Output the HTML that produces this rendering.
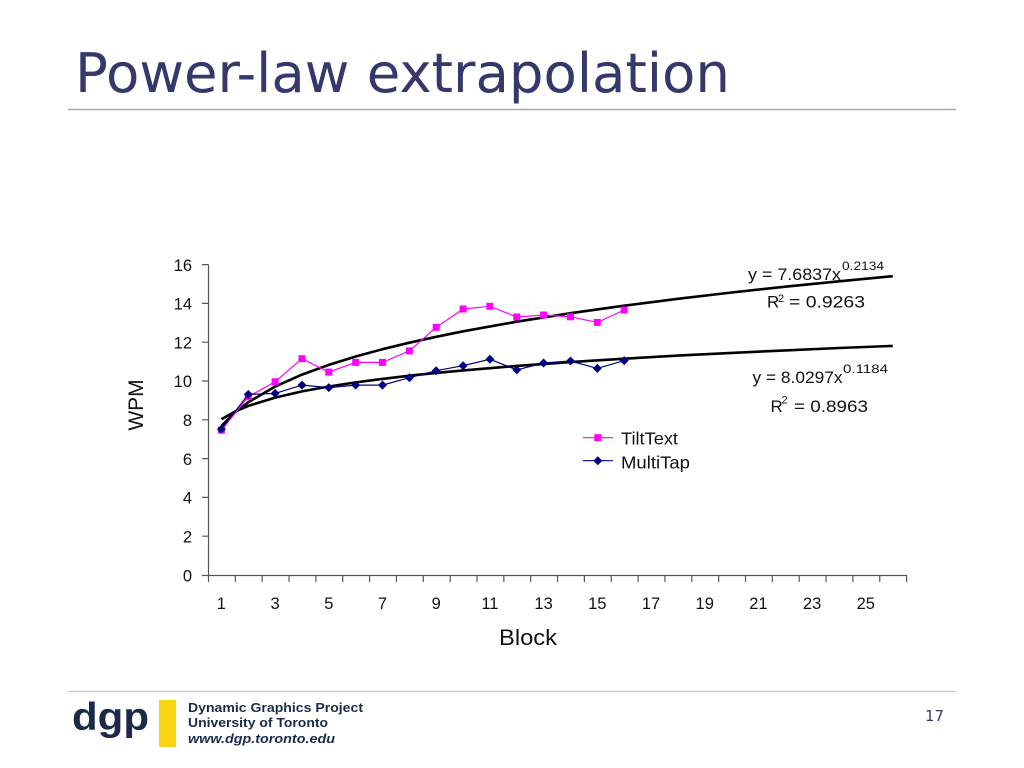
<!DOCTYPE html>
<html>
<head>
<meta charset="utf-8">
<style>
  html, body { margin: 0; padding: 0; background: #ffffff; }
  svg { display: block; }
  text { font-family: "Liberation Sans", Arial, sans-serif; }
</style>
</head>
<body>
<svg width="1024" height="768" viewBox="0 0 1024 768" xmlns="http://www.w3.org/2000/svg">
  <rect x="0" y="0" width="1024" height="768" fill="#ffffff"/>

  <!-- Title -->
  <text x="75" y="92" font-family="DejaVu Sans, sans-serif" font-size="54" fill="#35386b" textLength="655" lengthAdjust="spacingAndGlyphs" style="font-family:'DejaVu Sans',sans-serif">Power-law extrapolation</text>
  <line x1="68" y1="109.5" x2="956" y2="109.5" stroke="#a6a6ba" stroke-width="1.5"/>

  <!-- Trend lines -->
  <polyline fill="none" stroke="#000" stroke-width="2.6" stroke-linejoin="round"
    points="221.4,425.9 234.9,412.5 248.3,402.2 275.1,386.6 302.0,374.6 328.8,364.9 355.7,356.5 382.5,349.2 409.4,342.7 436.2,336.8 463.1,331.3 516.8,321.7 570.5,313.2 624.2,305.7 677.9,298.8 731.6,292.5 785.3,286.7 839.0,281.3 892.7,276.2"/>
  <polyline fill="none" stroke="#000" stroke-width="2.6" stroke-linejoin="round"
    points="221.4,419.2 234.9,411.6 248.3,405.9 275.1,397.6 302.0,391.4 328.8,386.5 355.7,382.4 382.5,378.9 409.4,375.7 436.2,372.9 463.1,370.4 516.8,365.9 570.5,362.1 624.2,358.7 677.9,355.6 731.6,352.9 785.3,350.4 839.0,348.0 892.7,345.9"/>

  <!-- TiltText series -->
  <polyline fill="none" stroke="#ff00ff" stroke-width="1.2"
    points="221.4,430.1 248.3,396.7 275.1,381.8 302.0,358.7 328.8,372.1 355.7,362.4 382.5,362.4 409.4,350.9 436.2,327.3 463.1,309.0 489.9,306.3 516.8,317.0 543.6,315.0 570.5,316.8 597.3,322.4 624.2,310.0"/>
  <g fill="#ff00ff">
    <rect x="217.9" y="426.6" width="7" height="7"/>
    <rect x="244.8" y="393.2" width="7" height="7"/>
    <rect x="271.6" y="378.3" width="7" height="7"/>
    <rect x="298.5" y="355.2" width="7" height="7"/>
    <rect x="325.3" y="368.6" width="7" height="7"/>
    <rect x="352.2" y="358.9" width="7" height="7"/>
    <rect x="379.0" y="358.9" width="7" height="7"/>
    <rect x="405.9" y="347.4" width="7" height="7"/>
    <rect x="432.7" y="323.8" width="7" height="7"/>
    <rect x="459.6" y="305.5" width="7" height="7"/>
    <rect x="486.4" y="302.8" width="7" height="7"/>
    <rect x="513.3" y="313.5" width="7" height="7"/>
    <rect x="540.1" y="311.5" width="7" height="7"/>
    <rect x="567.0" y="313.3" width="7" height="7"/>
    <rect x="593.8" y="318.9" width="7" height="7"/>
    <rect x="620.7" y="306.5" width="7" height="7"/>
  </g>

  <!-- MultiTap series -->
  <polyline fill="none" stroke="#000080" stroke-width="1.2"
    points="221.4,429.3 248.3,394.4 275.1,393.4 302.0,385.1 328.8,387.6 355.7,385.1 382.5,385.1 409.4,377.7 436.2,370.7 463.1,365.7 489.9,359.3 516.8,369.9 543.6,363.0 570.5,361.0 597.3,368.4 624.2,360.6"/>
  <g fill="#000080">
    <polygon points="221.4,424.8 225.9,429.3 221.4,433.8 216.9,429.3"/>
    <polygon points="248.3,389.9 252.8,394.4 248.3,398.9 243.8,394.4"/>
    <polygon points="275.1,388.9 279.6,393.4 275.1,397.9 270.6,393.4"/>
    <polygon points="302.0,380.6 306.5,385.1 302.0,389.6 297.5,385.1"/>
    <polygon points="328.8,383.1 333.3,387.6 328.8,392.1 324.3,387.6"/>
    <polygon points="355.7,380.6 360.2,385.1 355.7,389.6 351.2,385.1"/>
    <polygon points="382.5,380.6 387.0,385.1 382.5,389.6 378.0,385.1"/>
    <polygon points="409.4,373.2 413.9,377.7 409.4,382.2 404.9,377.7"/>
    <polygon points="436.2,366.2 440.7,370.7 436.2,375.2 431.7,370.7"/>
    <polygon points="463.1,361.2 467.6,365.7 463.1,370.2 458.6,365.7"/>
    <polygon points="489.9,354.8 494.4,359.3 489.9,363.8 485.4,359.3"/>
    <polygon points="516.8,365.4 521.3,369.9 516.8,374.4 512.3,369.9"/>
    <polygon points="543.6,358.5 548.1,363.0 543.6,367.5 539.1,363.0"/>
    <polygon points="570.5,356.5 575.0,361.0 570.5,365.5 566.0,361.0"/>
    <polygon points="597.3,363.9 601.8,368.4 597.3,372.9 592.8,368.4"/>
    <polygon points="624.2,356.1 628.7,360.6 624.2,365.1 619.7,360.6"/>
  </g>

  <!-- Axes -->
  <g stroke="#555" stroke-width="1.2" fill="none">
    <line x1="208.5" y1="264.6" x2="208.5" y2="575.5"/>
    <line x1="208" y1="575.5" x2="907" y2="575.5"/>
    <path d="M202 264.6 h6.5 M202 303.4 h6.5 M202 342.2 h6.5 M202 381 h6.5 M202 419.8 h6.5 M202 458.6 h6.5 M202 497.4 h6.5 M202 536.2 h6.5 M202 575.5 h6.5"/>
    <path d="M208.5 575 v7 m26.85 -7 v7 m26.85 -7 v7 m26.85 -7 v7 m26.85 -7 v7 m26.85 -7 v7 m26.85 -7 v7 m26.85 -7 v7 m26.85 -7 v7 m26.85 -7 v7 m26.85 -7 v7 m26.85 -7 v7 m26.85 -7 v7 m26.85 -7 v7 m26.85 -7 v7 m26.85 -7 v7 m26.85 -7 v7 m26.85 -7 v7 m26.85 -7 v7 m26.85 -7 v7 m26.85 -7 v7 m26.85 -7 v7 m26.85 -7 v7 m26.85 -7 v7 m26.85 -7 v7 m26.85 -7 v7 m26.85 -7 v7"/>
  </g>

  <!-- Y tick labels -->
  <g font-size="16.5" fill="#111" text-anchor="end">
    <text x="192" y="270.8">16</text>
    <text x="192" y="309.6">14</text>
    <text x="192" y="348.4">12</text>
    <text x="192" y="387.2">10</text>
    <text x="192" y="426">8</text>
    <text x="192" y="464.8">6</text>
    <text x="192" y="503.6">4</text>
    <text x="192" y="542.4">2</text>
    <text x="192" y="581.6">0</text>
  </g>

  <!-- X tick labels -->
  <g font-size="16.5" fill="#111" text-anchor="middle">
    <text x="221.4" y="609">1</text>
    <text x="275.1" y="609">3</text>
    <text x="328.8" y="609">5</text>
    <text x="382.5" y="609">7</text>
    <text x="436.2" y="609">9</text>
    <text x="489.9" y="609">11</text>
    <text x="543.6" y="609">13</text>
    <text x="597.3" y="609">15</text>
    <text x="651.0" y="609">17</text>
    <text x="704.7" y="609">19</text>
    <text x="758.4" y="609">21</text>
    <text x="812.1" y="609">23</text>
    <text x="865.8" y="609">25</text>
  </g>

  <!-- Axis titles -->
  <text x="499" y="645" font-size="22" fill="#111" textLength="58" lengthAdjust="spacingAndGlyphs">Block</text>
  <text transform="translate(143,405) rotate(-90)" x="0" y="0" font-size="21" fill="#111" text-anchor="middle">WPM</text>

  <!-- Equations -->
  <g fill="#111">
    <text x="748" y="280" font-size="17" textLength="93" lengthAdjust="spacingAndGlyphs">y = 7.6837x</text>
    <text x="842" y="270" font-size="12" textLength="42" lengthAdjust="spacingAndGlyphs">0.2134</text>
    <text x="767" y="307.5" font-size="17">R</text>
    <text x="778" y="302" font-size="11">2</text>
    <text x="789" y="307.5" font-size="17" textLength="76" lengthAdjust="spacingAndGlyphs">= 0.9263</text>

    <text x="752.5" y="383" font-size="17" textLength="90" lengthAdjust="spacingAndGlyphs">y = 8.0297x</text>
    <text x="843" y="373" font-size="12" textLength="45" lengthAdjust="spacingAndGlyphs">0.1184</text>
    <text x="770.5" y="412" font-size="17">R</text>
    <text x="781.5" y="403.5" font-size="11">2</text>
    <text x="794" y="412" font-size="17" textLength="74" lengthAdjust="spacingAndGlyphs">= 0.8963</text>
  </g>

  <!-- Legend -->
  <line x1="582.7" y1="437.7" x2="613" y2="437.7" stroke="#ff00ff" stroke-width="1.2"/>
  <rect x="594.3" y="434.2" width="7" height="7" fill="#ff00ff"/>
  <text x="621" y="444.3" font-size="17.5" fill="#111" textLength="57" lengthAdjust="spacingAndGlyphs">TiltText</text>
  <line x1="582.7" y1="460.7" x2="613" y2="460.7" stroke="#000080" stroke-width="1.2"/>
  <polygon points="597.8,456.2 602.3,460.7 597.8,465.2 593.3,460.7" fill="#000080"/>
  <text x="621" y="468.3" font-size="17.5" fill="#111" textLength="69" lengthAdjust="spacingAndGlyphs">MultiTap</text>

  <!-- Footer -->
  <line x1="68" y1="691.5" x2="956" y2="691.5" stroke="#c4c4c4" stroke-width="1.2"/>
  <text x="72" y="730" font-size="39" font-weight="bold" fill="#1c2a4a" textLength="77" lengthAdjust="spacingAndGlyphs">dgp</text>
  <rect x="159" y="700" width="17" height="47" fill="#f8d412"/>
  <g fill="#1c2a4a" font-weight="bold" font-size="13">
    <text x="188" y="712" textLength="175" lengthAdjust="spacingAndGlyphs">Dynamic Graphics Project</text>
    <text x="188" y="727" textLength="140" lengthAdjust="spacingAndGlyphs">University of Toronto</text>
    <text x="188" y="743" font-style="italic" textLength="147" lengthAdjust="spacingAndGlyphs">www.dgp.toronto.edu</text>
  </g>
  <text x="925" y="721" font-size="15.5" fill="#35386b" style="font-family:'DejaVu Sans',sans-serif" textLength="19" lengthAdjust="spacingAndGlyphs">17</text>
</svg>
</body>
</html>
